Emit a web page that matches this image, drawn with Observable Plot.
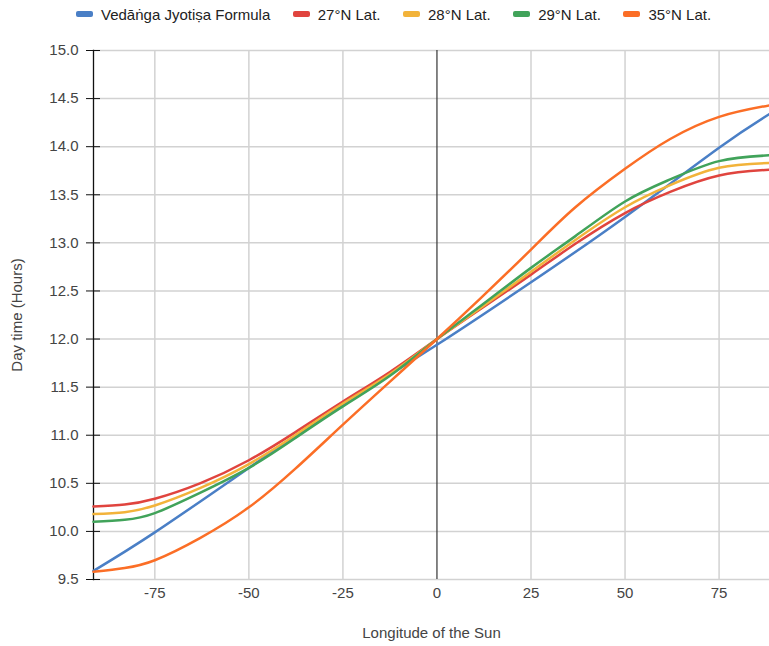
<!DOCTYPE html>
<html><head><meta charset="utf-8">
<script src="https://cdn.jsdelivr.net/npm/d3@7"></script>
<script src="https://cdn.jsdelivr.net/npm/@observablehq/plot@0.6"></script>
<style>
body{margin:0;background:#fff;font-family:"Liberation Sans",Arial,sans-serif;}
#legend{height:28px;display:flex;align-items:center;padding-left:76px;font-size:15px;color:#222;box-sizing:border-box;}
.item{display:flex;align-items:center;margin-right:22.5px;white-space:nowrap;}
.sw{width:17px;height:6px;border-radius:2px;margin-right:8px;}
</style></head><body>
<div id="legend"></div>
<div id="chart"></div>
<script>
// Data
const seriesNames = ["Vedāṅga Jyotiṣa Formula", "27°N Lat.", "28°N Lat.", "29°N Lat.", "35°N Lat."];
const seriesColors = ["#4a7fc6", "#e0443e", "#f2b33a", "#41a35a", "#fb6e26"];

const vedLon = [-91.3, -75, -50, -25, 0, 25, 50, 75, 88.4];
const vedanga = [9.59, 9.99, 10.66, 11.32, 11.94, 12.59, 13.27, 13.99, 14.34];

const lon = [-91.3, -83, -75, -63, -50, -37.7, -25, -12.4, 0, 11.5, 25, 36.8, 50, 62, 75, 88.4];
const lat27 = [10.26, 10.28, 10.34, 10.50, 10.74, 11.03, 11.35, 11.66, 12.00, 12.31, 12.67, 12.99, 13.31, 13.53, 13.70, 13.76];
const lat28 = [10.18, 10.20, 10.27, 10.45, 10.70, 11.00, 11.33, 11.64, 12.00, 12.32, 12.70, 13.03, 13.37, 13.60, 13.78, 13.83];
const lat29 = [10.10, 10.12, 10.19, 10.40, 10.66, 10.97, 11.30, 11.62, 12.00, 12.34, 12.74, 13.07, 13.43, 13.66, 13.85, 13.91];
const lat35 = [9.58, 9.62, 9.70, 9.93, 10.25, 10.65, 11.11, 11.56, 12.00, 12.42, 12.93, 13.37, 13.77, 14.08, 14.31, 14.43];

const xDomain = [-91.3, 88.4];
const xTicks = [-75, -50, -25, 0, 25, 50, 75];
const yTicks = [9.5, 10, 10.5, 11, 11.5, 12, 12.5, 13, 13.5, 14, 14.5, 15];

const seriesX = [vedLon, lon, lon, lon, lon];
const seriesY = [vedanga, lat27, lat28, lat29, lat35];
const rows = seriesNames.flatMap((name, s) => seriesX[s].map((x, i) => ({x, y: seriesY[s][i], name})));

// legend
const lg = document.getElementById("legend");
seriesNames.forEach((n, i) => {
  const it = document.createElement("div"); it.className = "item";
  const sw = document.createElement("span"); sw.className = "sw"; sw.style.background = seriesColors[i];
  const t = document.createElement("span"); t.textContent = n;
  it.append(sw, t); lg.append(it);
});

const grid = {stroke: "#d2d2d2", strokeOpacity: 1, strokeWidth: 1.5};
const chart = Plot.plot({
  width: 769, height: 618,
  marginTop: 22, marginBottom: 67, marginLeft: 93, marginRight: 0,
  style: {fontFamily: "Liberation Sans, Arial, sans-serif", fontSize: "15px", color: "#444", background: "#fff"},
  x: {domain: xDomain, label: null},
  y: {domain: [9.5, 15], label: null},
  color: {domain: seriesNames, range: seriesColors},
  marks: [
    Plot.gridY(yTicks, grid),
    Plot.gridX(xTicks.filter(d => d !== 0), grid),
    Plot.ruleX([0], {stroke: "#333", strokeWidth: 1.2}),
    Plot.frame({anchor: "left", stroke: "#111", strokeWidth: 1.3}),
    Plot.axisY(yTicks, {tickSize: 7, tickPadding: 8, tickFormat: d => d.toFixed(1), stroke: "#111", fill: "#444",
      label: "Day time (Hours)", labelAnchor: "center", labelArrow: "none", labelOffset: 82}),
    Plot.axisY(yTicks, {tickSize: -7, tickFormat: () => "", stroke: "#111", label: null}),
    Plot.axisX(xTicks, {tickSize: 0, tickPadding: 8, fill: "#444", tickFormat: d => String(d),
      label: "Longitude of the Sun", labelAnchor: "center", labelArrow: "none", labelOffset: 58}),
    ...seriesNames.map(n => Plot.line(rows.filter(r => r.name === n), {x: "x", y: "y", stroke: "name", strokeWidth: 2.5, curve: "natural"}))
  ]
});
document.getElementById("chart").append(chart);
</script>
</body></html>
